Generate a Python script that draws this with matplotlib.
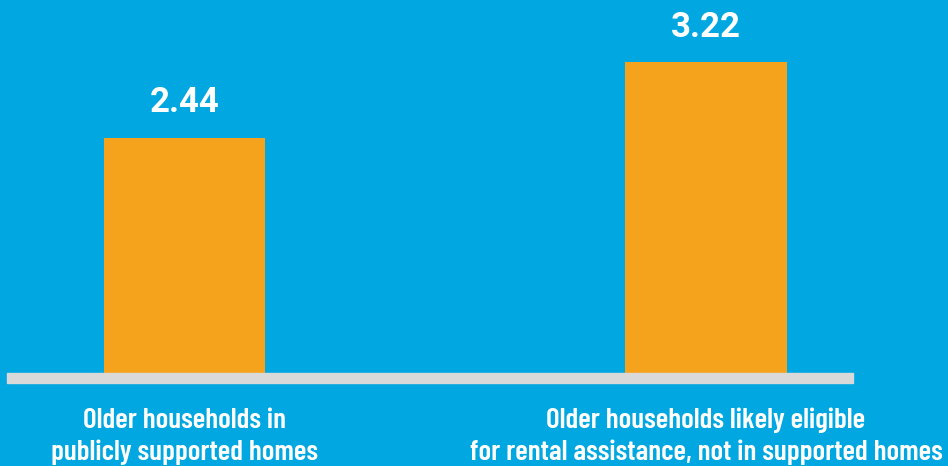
import matplotlib
matplotlib.use('Agg')
from matplotlib import pyplot as plt

categories = ['Older households in\npublicly supported homes',
              'Older households likely eligible\nfor rental assistance, not in supported homes']
values = [2.44, 3.22]
value_labels = ['2.44', '3.22']

bg = '#00A7E0'
orange = '#F5A31D'

fig = plt.figure(figsize=(9.48, 4.66), dpi=100, facecolor=bg)
ax = fig.add_axes([0, 0, 1, 1])
ax.set_facecolor(bg)

x = list(range(len(values)))
ax.bar(x, values, width=0.31, color=orange, zorder=2)

# gray baseline strip
ax.axhspan(-0.105, 0, xmin=0.0074, xmax=0.90, color='#D9D9D9', zorder=3)

for xi, v, lab in zip(x, values, value_labels):
    ax.annotate(lab, (xi, v), xytext=(0, 25), textcoords='offset points',
                ha='center', va='center', color='white', fontsize=25,
                fontweight='bold', family=['Roboto', 'DejaVu Sans'])

for xi, cat in zip(x, categories):
    ax.text(xi, -0.9, cat, ha='center', va='baseline', color='white',
            fontsize=21, fontweight=600, linespacing=1.3,
            family=['Barlow Condensed', 'DejaVu Sans'])

ax.set_xlim(-0.354, 1.464)
ax.set_ylim(-0.964, 3.865)
ax.axis('off')

fig.savefig('out.png', dpi=100, facecolor=bg)
